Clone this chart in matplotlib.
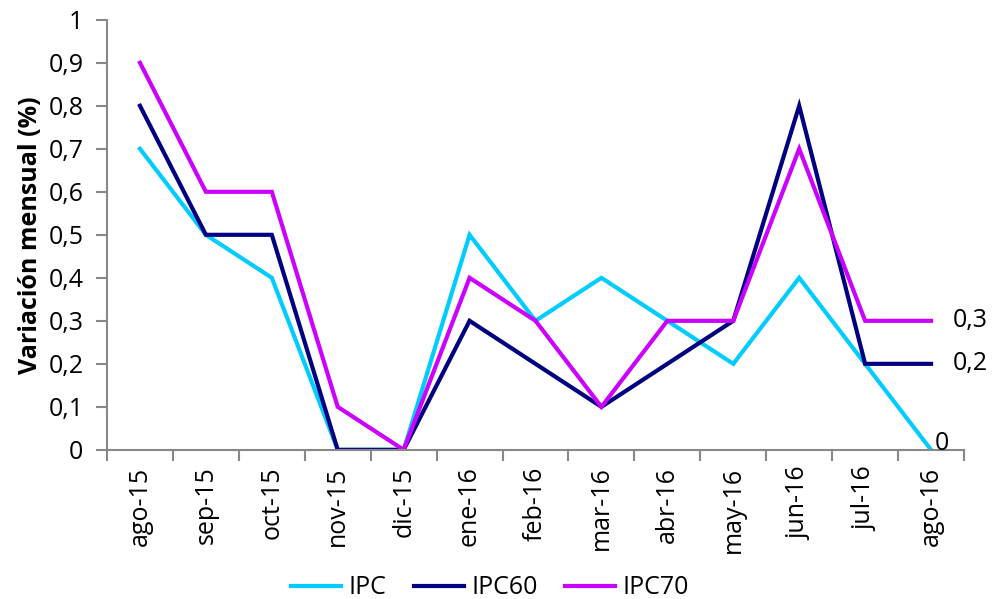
import matplotlib
matplotlib.use("Agg")
import matplotlib.pyplot as plt
from matplotlib.ticker import FixedLocator, FuncFormatter

plt.rcParams['font.family'] = ['Open Sans', 'DejaVu Sans']

meses = ["ago-15", "sep-15", "oct-15", "nov-15", "dic-15", "ene-16", "feb-16",
         "mar-16", "abr-16", "may-16", "jun-16", "jul-16", "ago-16"]
ipc = [0.7, 0.5, 0.4, 0, 0, 0.5, 0.3, 0.4, 0.3, 0.2, 0.4, 0.2, 0]
ipc60 = [0.8, 0.5, 0.5, 0, 0, 0.3, 0.2, 0.1, 0.2, 0.3, 0.8, 0.2, 0.2]
ipc70 = [0.9, 0.6, 0.6, 0.1, 0, 0.4, 0.3, 0.1, 0.3, 0.3, 0.7, 0.3, 0.3]

series = [("IPC", ipc, "#00CCFF"), ("IPC60", ipc60, "#000080"), ("IPC70", ipc70, "#CC00FF")]
FS = 18

fig = plt.figure(figsize=(10, 5.99), dpi=100)
ax = fig.add_axes([0.107, 0.249, 0.857, 0.718])

x = list(range(len(meses)))
for nombre, vals, color in series:
    ax.plot(x, vals, color=color, lw=3, label=nombre, solid_joinstyle='miter')
    etiqueta = f"{vals[-1]:g}".replace(".", ",")
    if vals[-1] == 0:
        # Excel lo sube un poco sobre el eje
        ax.text(x[-1] + 0.05, vals[-1] - 0.015, etiqueta, fontsize=FS, va='bottom', ha='left')
    else:
        ax.text(x[-1] + 0.33, vals[-1], etiqueta, fontsize=FS, va='center', ha='left')

ax.set_xlim(-0.5, len(meses) - 0.5)
ax.set_ylim(0, 1)
ax.set_yticks([i / 10 for i in range(11)])
ax.yaxis.set_major_formatter(FuncFormatter(lambda v, p: f"{v:g}".replace(".", ",")))
ax.set_xticks(x)
ax.set_xticklabels(meses, rotation=90)
ax.xaxis.set_minor_locator(FixedLocator([i - 0.5 for i in range(len(meses) + 1)]))
ax.tick_params(axis='x', which='major', length=0, pad=12, labelsize=FS)
ax.tick_params(axis='x', which='minor', length=8, color='#888888', width=1.5)
ax.tick_params(axis='y', length=8, color='#888888', width=1.5, labelsize=FS, pad=9)

for s in ['top', 'right']:
    ax.spines[s].set_visible(False)
for s in ['left', 'bottom']:
    ax.spines[s].set_color('#888888')
    ax.spines[s].set_linewidth(1.5)

ax.set_ylabel("Variación mensual (%)", fontsize=FS, fontweight='bold', labelpad=4)

fig.legend(loc='lower center', bbox_to_anchor=(0.49, -0.04), ncol=3, frameon=False,
           fontsize=FS, handlelength=2.0, columnspacing=1.1, handletextpad=0.3)

fig.savefig("out.png", dpi=100)
